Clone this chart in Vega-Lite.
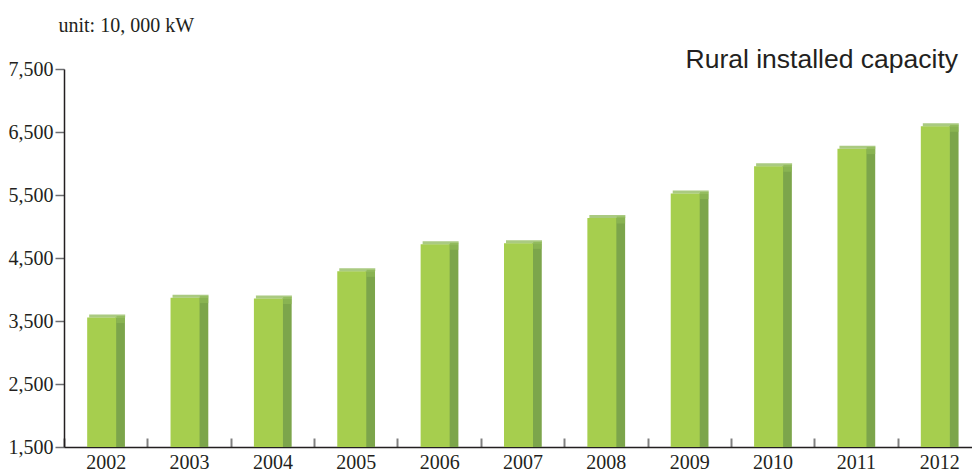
{
  "$schema": "https://vega.github.io/schema/vega-lite/v6.json",
  "width": 908,
  "height": 378,
  "autosize": {"type": "none"},
  "padding": {"left": 64, "top": 69, "right": 0, "bottom": 25},
  "background": "white",
  "view": {"stroke": null},
  "title": {
    "text": "Rural installed capacity",
    "anchor": "end",
    "orient": "top",
    "frame": "group",
    "font": "Liberation Sans",
    "fontSize": 26.5,
    "fontWeight": "normal",
    "color": "#231F20",
    "baseline": "alphabetic",
    "offset": 0,
    "dx": -14,
    "dy": 79
  },
  "data": {
    "values": [
      {"year": "2002", "value": 3554},
      {"year": "2003", "value": 3871},
      {"year": "2004", "value": 3856},
      {"year": "2005", "value": 4289},
      {"year": "2006", "value": 4717},
      {"year": "2007", "value": 4733},
      {"year": "2008", "value": 5135},
      {"year": "2009", "value": 5522},
      {"year": "2010", "value": 5956},
      {"year": "2011", "value": 6236},
      {"year": "2012", "value": 6590}
    ]
  },
  "encoding": {
    "x": {
      "field": "year",
      "type": "ordinal",
      "scale": {"range": [0, 917], "paddingInner": 0, "paddingOuter": 0},
      "axis": {
        "title": null,
        "labelAngle": 0,
        "labelFont": "Liberation Serif",
        "labelFontSize": 20,
        "labelColor": "#231F20",
        "labelPadding": 14,
        "tickBand": "extent",
        "tickSize": -9,
        "tickColor": "#808080",
        "tickWidth": 2,
        "domainColor": "#231F20",
        "domainWidth": 1.5
      }
    }
  },
  "layer": [
    {
      "mark": {"type": "bar", "width": 9.5, "xOffset": 14.5, "color": "#7CA54B"},
      "encoding": {
        "y": {
          "field": "value",
          "type": "quantitative",
          "scale": {"domain": [1500, 7500], "nice": false, "zero": false},
          "axis": {
            "title": "unit: 10, 000 kW",
            "titleAngle": 0,
            "titleAlign": "left",
            "titleBaseline": "alphabetic",
            "titleX": -6,
            "titleY": -38,
            "titleFont": "Liberation Serif",
            "titleFontSize": 20,
            "titleFontWeight": "normal",
            "titleColor": "#231F20",
            "values": [1500, 2500, 3500, 4500, 5500, 6500, 7500],
            "format": ",d",
            "labelFont": "Liberation Serif",
            "labelFontSize": 20,
            "labelColor": "#231F20",
            "labelPadding": 2,
            "tickSize": 9,
            "tickColor": "#6d6e71",
            "tickWidth": 1.5,
            "domainColor": "#231F20",
            "domainWidth": 1.5,
            "grid": false
          }
        },
        "y2": {"datum": 1500}
      }
    },
    {
      "mark": {"type": "tick", "orient": "vertical", "size": 7, "thickness": 8.5, "xOffset": 15, "yOffset": 2, "color": "#8FB955"},
      "encoding": {
        "y": {"field": "value", "type": "quantitative"}
      }
    },
    {
      "mark": {"type": "bar", "width": 29, "xOffset": -4, "color": "#A6CE4E"},
      "encoding": {
        "y": {"field": "value", "type": "quantitative"},
        "y2": {"datum": 1500}
      }
    },
    {
      "mark": {"type": "tick", "orient": "horizontal", "size": 36, "thickness": 3, "xOffset": 1.5, "yOffset": -1.5, "color": "#86B34B"},
      "encoding": {
        "y": {"field": "value", "type": "quantitative"}
      }
    }
  ]
}
